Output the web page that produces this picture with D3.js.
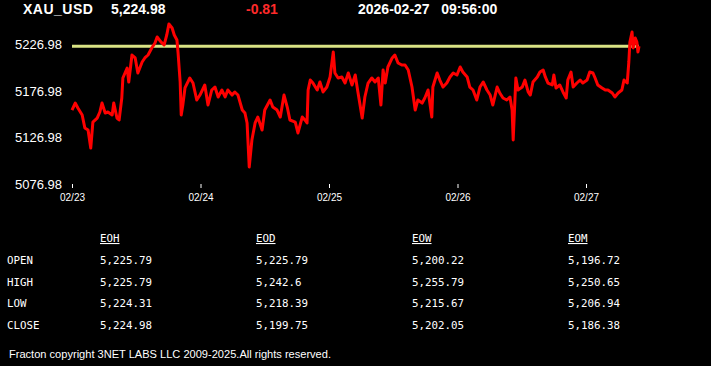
<!DOCTYPE html>
<html>
<head>
<meta charset="utf-8">
<script src="https://cdn.jsdelivr.net/npm/d3@7"></script>
<style>
  html, body { margin: 0; padding: 0; background: #000; }
  svg { display: block; }
</style>
</head>
<body>
<svg id="chart"></svg>
<script>
// quote header
const symbol = "XAU_USD";
const lastPrice = "5,224.98";
const change = "-0.81";
const quoteTime = "2026-02-27   09:56:00";
const currentLevel = 5224.98;

// hours since 02/23 00:00 and price
const hours = [0.0,0.6,1.1,1.9,2.4,3.0,3.5,3.9,4.7,5.2,5.6,6.2,6.7,7.5,7.8,8.4,8.8,9.3,9.5,10.3,
  10.6,11.2,11.8,12.3,13.1,13.6,14.2,14.9,15.5,15.9,16.6,17.2,17.7,18.1,18.7,19.1,19.6,19.8,20.2,20.4,
  20.7,21.1,22.0,22.6,23.3,23.9,24.8,25.4,26.1,26.7,27.3,28.0,28.6,29.1,29.9,30.4,31.0,31.8,32.3,32.7,
  33.1,33.6,34.2,34.7,35.5,36.0,37.0,37.5,38.3,38.9,39.6,40.2,40.7,41.7,42.2,43.0,43.5,43.9,44.1,44.5,
  45.0,45.8,46.3,46.9,47.6,48.2,48.8,49.1,49.7,50.4,51.0,51.6,52.3,52.9,53.4,54.2,54.7,55.3,56.0,56.6,
  57.2,57.7,58.1,58.5,59.0,59.8,60.3,60.9,61.6,62.2,62.8,63.5,64.1,64.6,65.4,65.9,66.5,67.2,67.4,68.2,
  68.7,69.3,70.0,70.6,71.2,71.9,72.5,73.0,73.8,74.3,74.9,75.6,76.2,76.8,77.5,78.1,78.6,79.4,79.9,80.5,
  81.2,81.8,82.2,82.4,82.9,83.3,84.1,84.6,85.2,85.6,86.1,86.9,87.4,88.0,88.4,88.9,89.7,90.0,90.4,91.1,
  91.7,92.3,92.6,93.2,93.6,94.3,94.9,95.4,96.2,96.7,97.3,97.7,98.2,99.0,99.6,100.1,100.9,101.4,102.0,102.7,
  103.1,103.7,104.0,104.2,104.6,104.8,105.2,105.5,105.7,105.9];
const prices = [5156.4,5163.9,5158.6,5151.1,5137.1,5134.9,5115.6,5143.5,5147.8,5154.3,5163.9,5153.2,5154.3,5151.1,5163.9,5147.8,5145.7,5169.3,5190.8,5201.5,
  5186.5,5215.5,5212.3,5196.2,5208.0,5212.3,5215.5,5223.0,5228.4,5234.8,5229.5,5226.2,5237.0,5248.8,5244.5,5237.0,5231.6,5218.7,5186.5,5151.1,
  5161.8,5180.1,5190.8,5185.4,5167.2,5172.5,5183.3,5161.8,5177.9,5181.1,5170.4,5177.9,5170.4,5177.9,5172.5,5175.8,5172.5,5156.4,5153.2,5142.5,
  5095.2,5124.2,5142.5,5148.9,5134.9,5156.4,5167.2,5159.6,5156.4,5148.9,5172.5,5159.6,5145.7,5143.5,5131.8,5148.9,5145.7,5142.5,5177.9,5188.6,
  5185.4,5177.9,5186.5,5175.8,5181.1,5191.9,5218.7,5196.2,5190.8,5191.9,5185.4,5196.2,5183.3,5194.0,5175.8,5147.8,5170.4,5185.4,5190.8,5186.5,
  5190.8,5161.8,5199.4,5185.4,5202.6,5212.3,5215.5,5206.9,5204.7,5204.7,5199.4,5181.1,5156.4,5167.2,5163.9,5169.3,5177.9,5148.9,5181.1,5196.2,
  5188.6,5181.1,5185.4,5191.9,5196.2,5194.0,5202.6,5197.2,5191.9,5181.1,5177.9,5167.2,5181.1,5186.5,5177.9,5172.5,5161.8,5181.1,5174.7,5169.3,
  5167.2,5170.4,5156.4,5124.2,5190.8,5177.9,5181.1,5188.6,5175.8,5172.5,5186.5,5191.9,5197.2,5199.4,5191.9,5185.4,5183.3,5194.0,5180.1,5183.3,
  5175.8,5169.3,5188.6,5197.2,5181.1,5185.4,5188.6,5185.4,5188.6,5197.2,5196.2,5190.8,5183.3,5180.1,5177.9,5177.9,5174.7,5170.4,5174.7,5177.9,
  5188.6,5185.4,5208.0,5229.5,5240.2,5223.0,5233.7,5229.5,5218.7,5224.98];

// axes
const yTicks = [5076.98, 5126.98, 5176.98, 5226.98];
const dayHours = [0, 24, 48, 72, 96];
const dayLabels = ["02/23", "02/24", "02/25", "02/26", "02/27"];

// summary table
const periods = ["EOH", "EOD", "EOW", "EOM"];
const rowNames = ["OPEN", "HIGH", "LOW", "CLOSE"];
const eoh = ["5,225.79", "5,225.79", "5,224.31", "5,224.98"];
const eod = ["5,225.79", "5,242.6", "5,218.39", "5,199.75"];
const eow = ["5,200.22", "5,255.79", "5,215.67", "5,202.05"];
const eom = ["5,196.72", "5,250.65", "5,206.94", "5,186.38"];
const columns = [eoh, eod, eow, eom];

const footer = "Fracton copyright 3NET LABS LLC 2009-2025.All rights reserved.";

const width = 711, height = 366;
const svg = d3.select("#chart").attr("width", width).attr("height", height);
svg.append("rect").attr("width", width).attr("height", height).attr("fill", "#000");

const x = d3.scaleLinear().domain([0, 96]).range([72, 586]);
const y = d3.scaleLinear().domain([5076.98, 5226.98]).range([184, 44.3]);

const sans = "Arial, 'Liberation Sans', sans-serif";
const mono = "Consolas, 'DejaVu Sans Mono', 'Liberation Mono', monospace";

// header line
const header = svg.append("g").attr("font-family", sans).attr("font-weight", "bold").attr("font-size", 14);
header.append("text").attr("x", 23).attr("y", 14).attr("fill", "#fff").attr("letter-spacing", 0.5).text(symbol);
header.append("text").attr("x", 111).attr("y", 14).attr("fill", "#fff").text(lastPrice);
header.append("text").attr("x", 246).attr("y", 14).attr("fill", "#ff2a2a").text(change);
header.append("text").attr("x", 358).attr("y", 14).attr("fill", "#fff")
  .style("white-space", "pre").text(quoteTime);

// y labels
svg.append("g")
  .selectAll("text")
  .data(yTicks)
  .join("text")
  .attr("x", 62)
  .attr("y", d => y(d))
  .attr("dy", "0.36em")
  .attr("text-anchor", "end")
  .attr("font-family", sans)
  .attr("font-size", 13)
  .attr("fill", "#fff")
  .text(d => d.toFixed(2));

// x axis
const xAxis = svg.append("g")
  .attr("transform", `translate(0,${y(5076.98)})`)
  .call(d3.axisBottom(x).tickValues(dayHours).tickFormat((d, i) => dayLabels[i]).tickSize(4).tickPadding(6));
xAxis.select(".domain").remove();
xAxis.selectAll("line").attr("stroke", "#fff");
xAxis.selectAll("text").attr("fill", "#fff").attr("font-family", sans).attr("font-size", 10);

// current level line
svg.append("line")
  .attr("x1", x(0)).attr("x2", x(hours[hours.length - 1]))
  .attr("y1", y(currentLevel)).attr("y2", y(currentLevel))
  .attr("stroke", "#d9e384").attr("stroke-width", 3);

// price line
const series = hours.map((h, i) => [h, prices[i]]);
svg.append("path")
  .datum(series)
  .attr("fill", "none")
  .attr("stroke", "#ff0000")
  .attr("stroke-width", 3)
  .attr("stroke-linejoin", "round")
  .attr("d", d3.line().x(d => x(d[0])).y(d => y(d[1])));

// table
const colX = [100, 256, 412, 568];
const rowY = [264, 285.5, 307, 329];
const table = svg.append("g").attr("font-family", mono).attr("font-size", 10.8).attr("fill", "#fff");
table.selectAll(".head")
  .data(periods)
  .join("text")
  .attr("class", "head")
  .attr("x", (d, i) => colX[i])
  .attr("y", 242)
  .attr("text-decoration", "underline")
  .text(d => d);
table.selectAll(".row")
  .data(rowNames)
  .join("text")
  .attr("class", "row")
  .attr("x", 7)
  .attr("y", (d, i) => rowY[i])
  .text(d => d);
columns.forEach((col, c) => {
  table.append("g")
    .selectAll("text")
    .data(col)
    .join("text")
    .attr("x", colX[c])
    .attr("y", (d, i) => rowY[i])
    .text(d => d);
});

// footer
svg.append("text")
  .attr("x", 9).attr("y", 358)
  .attr("font-family", sans).attr("font-size", 11)
  .attr("fill", "#fff")
  .attr("textLength", 322)
  .attr("lengthAdjust", "spacingAndGlyphs")
  .text(footer);
</script>
</body>
</html>
